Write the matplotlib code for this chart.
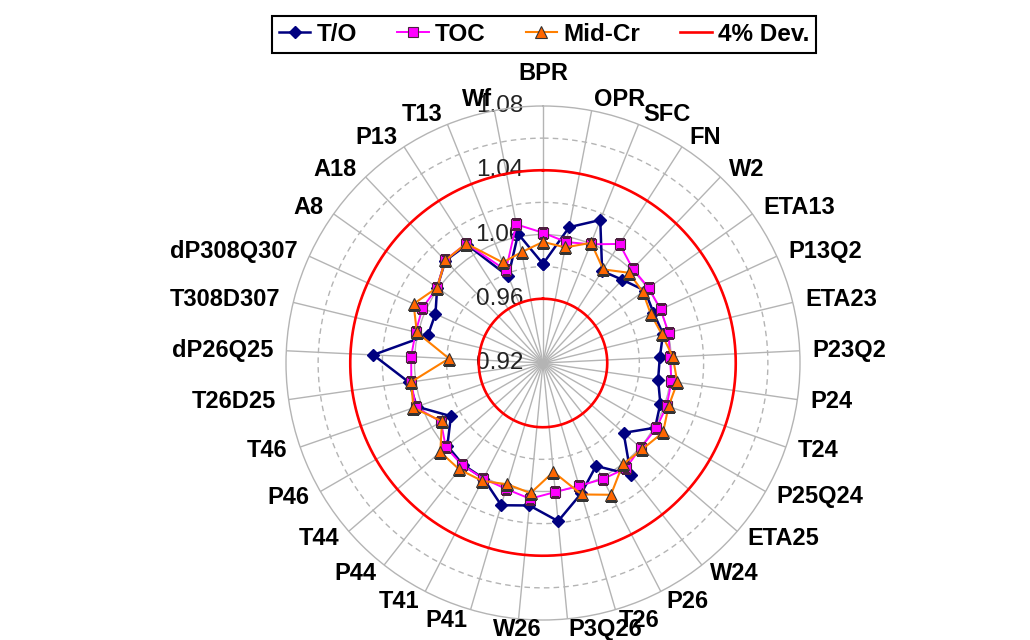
import numpy as np
import matplotlib
matplotlib.use("Agg")
import matplotlib.pyplot as plt
from matplotlib.lines import Line2D

categories = ["BPR", "OPR", "SFC", "FN", "W2", "ETA13", "P13Q2", "ETA23", "P23Q2",
              "P24", "T24", "P25Q24", "ETA25", "W24", "P26", "T26", "P3Q26", "W26",
              "P41", "T41", "P44", "T44", "P46", "T46", "T26D25", "dP26Q25",
              "T308D307", "dP308Q307", "A8", "A18", "P13", "T13", "Wf"]

t_o = [0.9817, 1.0061, 1.0159, 0.9881, 0.9916, 0.9978, 0.9956, 0.9969, 0.9928,
       0.9924, 0.9973, 1.0006, 0.9864, 1.0085, 0.9921, 1.0046, 1.0189, 1.0091,
       1.0123, 1.0009, 1.0006, 0.9988, 0.9862, 1.0031, 1.0043, 1.0258,
       0.9937, 0.9936, 1.0009, 1.0081, 1.0075, 0.9781, 1.0019]

toc = [1.0011, 0.9967, 0.9996, 1.0081, 1.0010, 1.0007, 1.0005, 1.0004, 0.9991,
       1.0008, 1.0015, 1.0014, 1.0005, 1.0034, 1.0013, 0.9997, 1.0007, 1.0049,
       1.0017, 1.0009, 1.0011, 1.0001, 0.9933, 1.0039, 1.0028, 1.0022,
       1.0016, 1.0025, 1.0009, 1.0084, 1.0084, 0.9822, 1.0079]

mid_cr = [0.9954, 0.9933, 1.0006, 0.9893, 0.9976, 0.9963, 0.9937, 0.9961, 1.0009,
          1.0045, 1.0027, 1.0063, 1.0019, 1.0003, 1.0123, 1.0053, 0.9881, 1.0014,
          0.9987, 1.0026, 1.0043, 1.0046, 0.9926, 1.0054, 1.0029, 0.9786,
          1.0008, 1.0086, 1.0009, 1.0082, 1.0084, 0.9874, 0.9903]

dev_levels = [0.96, 1.04]
r_ticks = [0.92, 0.96, 1.00, 1.04, 1.08]
r_minor = [0.98, 1.02, 1.06]
r_min, r_max = 0.92, 1.08

FONT = "Liberation Sans"

fig = plt.figure(figsize=(10.3, 6.4), dpi=100)
ax = fig.add_axes([286 / 1030, 20 / 640, 514 / 1030, 514 / 640], projection="polar")
ax.set_theta_zero_location("N")
ax.set_theta_direction(-1)
ax.set_ylim(r_min, r_max)

n = len(categories)
angles = np.arange(n) * 2 * np.pi / n

grid_col = "#b4b4b4"
ax.set_xticks(angles)
ax.set_xticklabels([])
ax.set_yticks([0.96, 1.00, 1.04])
ax.set_yticklabels([])
ax.grid(True, color=grid_col, linewidth=1.0, linestyle="-")
ax.spines["polar"].set_color(grid_col)
ax.spines["polar"].set_linewidth(1.0)
ax.tick_params(length=0)

full = np.linspace(0, 2 * np.pi, 400)
for r in r_minor:
    ax.plot(full, np.full_like(full, r), color=grid_col, lw=1.0, ls=(0, (4, 3)), zorder=1)

# radial tick labels
for r in r_ticks:
    ax.annotate(f"{r:.2f}", xy=(0, r), xytext=(-20, 0), textcoords="offset pixels",
                ha="right", va="center", fontsize=17.5, family=FONT, color="#222222",
                annotation_clip=False, zorder=2)

# 4 % deviation circles
for r in dev_levels:
    ax.plot(full, np.full_like(full, r), color="#ff0000", lw=1.9, zorder=3)

ang_c = np.append(angles, angles[0])
def closed(v):
    return np.append(v, v[0])

ax.plot(ang_c, closed(t_o), color="#000080", lw=1.8, marker="D", ms=6,
        mfc="#000080", mec="#000080", zorder=4)
ax.plot(ang_c, closed(toc), color="#ff00ff", lw=1.4, marker="s", ms=7.5,
        mfc="#ff00ff", mec="#4d2040", mew=0.8, zorder=5)
ax.plot(ang_c, closed(mid_cr), color="#ff7f00", lw=1.5, marker="^", ms=8.5,
        mfc="#ff6600", mec="#333333", mew=0.8, zorder=6)

# category labels
for a, name in zip(angles, categories):
    s, c = np.sin(a), np.cos(a)
    if s > 0.05:
        ha = "left"
    elif s < -0.12:
        ha = "right"
    else:
        ha = "center"
    dx = 13 * s
    dy = 11 * c
    if ha == "center" and c > 0:
        dy += 22
    ax.annotate(name, xy=(a, r_max), xytext=(dx, dy), textcoords="offset pixels",
                ha=ha, va="center", fontsize=17, fontweight="bold", family=FONT,
                color="black", annotation_clip=False, zorder=7)

handles = [
    Line2D([], [], color="#000080", lw=1.8, marker="D", ms=6, mfc="#000080", mec="#000080"),
    Line2D([], [], color="#ff00ff", lw=1.4, marker="s", ms=7.5, mfc="#ff00ff", mec="#4d2040", mew=0.8),
    Line2D([], [], color="#ff7f00", lw=1.5, marker="^", ms=8.5, mfc="#ff6600", mec="#333333", mew=0.8),
    Line2D([], [], color="#ff0000", lw=1.9),
]
labels = ["T/O", "TOC", "Mid-Cr", "4% Dev."]
leg = fig.legend(handles, labels, loc="center", bbox_to_anchor=(544 / 1030, 1 - 34.5 / 640),
                 ncol=4, frameon=True, fancybox=False, edgecolor="black", framealpha=1,
                 prop={"family": FONT, "weight": "bold", "size": 17.5},
                 handlelength=1.3, handletextpad=0.25, columnspacing=1.65, borderpad=0.3)
leg.get_frame().set_linewidth(1.5)

fig.savefig("out.png", dpi=100, facecolor="white")
